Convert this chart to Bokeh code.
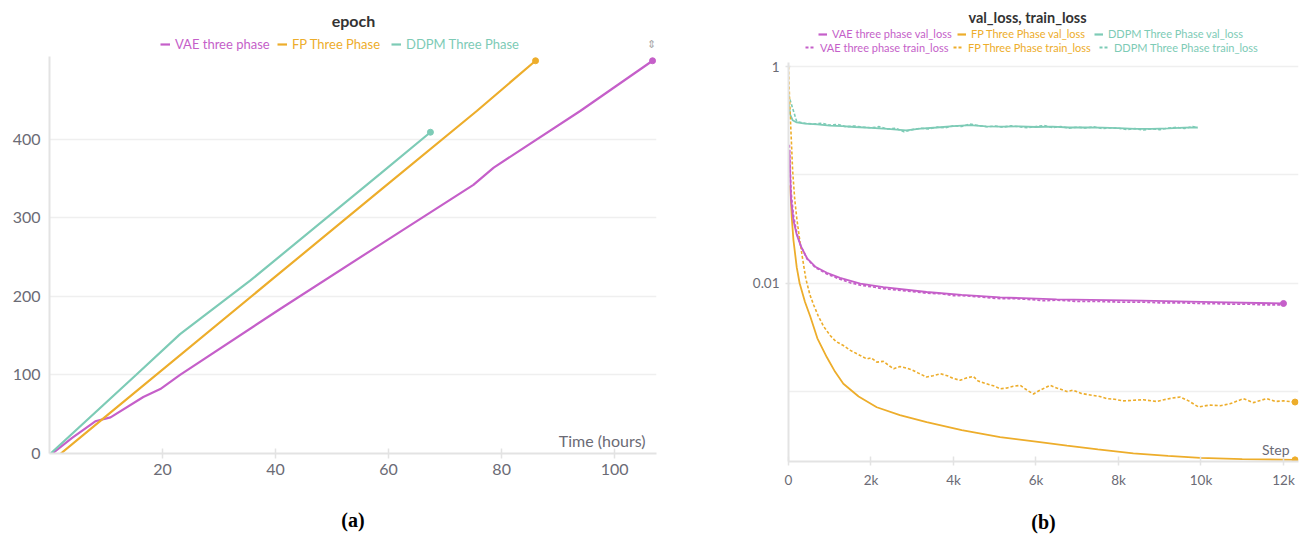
from bokeh.plotting import figure
from bokeh.models import FixedTicker, Legend, LegendItem, Label, Range1d
from bokeh.layouts import row, column
from bokeh.embed import file_html
from bokeh.resources import INLINE

# ---------------- panel (a): epoch vs time ----------------
vae_hours = [0.5, 4.0, 8.1, 10.8, 16.6, 19.6, 23.1, 40.8, 58.5, 75.0, 78.6, 93.9, 106.7]
vae_epoch = [0, 20, 41, 46, 72, 82, 100, 184, 266, 342, 364, 436, 500]
fp_hours = [2.0, 9.0, 39.1, 58.5, 75.6, 86.0]
fp_epoch = [0, 41.5, 220, 335, 436, 500]
ddpm_hours = [0.2, 15.3, 23.1, 35.5, 58.5, 67.4]
ddpm_epoch = [0, 100, 152, 220, 356, 409]
hour_ticks = [20, 40, 60, 80, 100]
epoch_ticks = [0, 100, 200, 300, 400]

# ---------------- panel (b): losses vs step ----------------
vae_val_steps = [20, 60, 120, 200, 300, 450, 650, 930, 1250, 1740, 2300, 3350, 4200, 5130, 6500, 8570, 10300, 12000]
vae_val = [0.17, 0.06, 0.038, 0.028, 0.022, 0.017, 0.0142, 0.0125, 0.0112, 0.0099, 0.0092, 0.0083, 0.0078,
           0.0074, 0.0071, 0.0069, 0.0067, 0.0065]
vae_train_steps = [20, 60, 120, 200, 300, 450, 650, 930, 1250, 1500, 1740, 2000, 2300, 2600, 3000, 3350, 3700,
                   4000, 4200, 4600, 5130, 5500, 5800, 6200, 6500, 7000, 7500, 8000, 8570, 9000, 9500, 10000,
                   10300, 10800, 11200, 11600, 12000]
vae_train = [0.19, 0.07, 0.042, 0.029, 0.022, 0.0168, 0.0140, 0.0122, 0.0109, 0.0101, 0.0096, 0.0093, 0.0089,
             0.0087, 0.0084, 0.0081, 0.0080, 0.0077, 0.0077, 0.0075, 0.0072, 0.0072, 0.0071, 0.0069, 0.0070,
             0.0068, 0.0068, 0.0067, 0.0067, 0.0066, 0.0066, 0.0065, 0.0065, 0.0064, 0.0064, 0.0063, 0.0063]
fp_val_steps = [40, 80, 120, 200, 270, 400, 530, 700, 930, 1130, 1330, 1700, 2140, 2700, 3350, 4200, 5130,
                6000, 6750, 7500, 8360, 9200, 9980, 11000, 12280]
fp_val = [0.08, 0.04, 0.025, 0.014, 0.01, 0.0067, 0.0049, 0.0031, 0.00207, 0.00152, 0.00118, 0.00090, 0.000716,
          0.000605, 0.000521, 0.000440, 0.000379, 0.000345, 0.000317, 0.000292, 0.000269, 0.000255, 0.000244,
          0.000238, 0.000234]
fp_train_steps = [0, 30, 60, 100, 150, 200, 260, 330, 420, 520, 610, 720, 850, 1010, 1150, 1330, 1500, 1740,
                  1900, 2000, 2140, 2300, 2450, 2550, 2700, 2850, 3000, 3150, 3350, 3500, 3680, 3850, 4000, 4160,
                  4300, 4480, 4600, 4800, 5000, 5130, 5300, 5450, 5620, 5800, 5940, 6100, 6340, 6500, 6750, 6900,
                  7100, 7390, 7550, 7720, 7900, 8100, 8360, 8600, 8930, 9100, 9300, 9500, 9700, 9940, 10200,
                  10470, 10700, 11030, 11270, 11450, 11600, 11800, 12000, 12280]
fp_train = [1.0, 0.45, 0.25, 0.11, 0.06, 0.04, 0.027, 0.018, 0.011, 0.0078, 0.0063, 0.0050, 0.0040, 0.00329,
            0.0029, 0.00266, 0.0024, 0.00215, 0.0020, 0.00205, 0.00187, 0.0019, 0.00172, 0.00162, 0.0017,
            0.00165, 0.00158, 0.00148, 0.00136, 0.0014, 0.00146, 0.0014, 0.00132, 0.00127, 0.00133, 0.00138,
            0.00125, 0.00118, 0.00112, 0.00106, 0.00108, 0.00112, 0.00114, 0.00102, 0.00095, 0.00103, 0.00114,
            0.00108, 0.00100, 0.00103, 0.00096, 0.00092, 0.00090, 0.00086, 0.00085, 0.00082, 0.00083, 0.00084,
            0.00081, 0.00084, 0.00087, 0.00089, 0.00082, 0.00072, 0.00075, 0.00074, 0.00077, 0.00086, 0.00079,
            0.00083, 0.00086, 0.00081, 0.00082, 0.00080]
ddpm_val_steps = [0, 40, 100, 200, 400, 700, 1000, 1300, 1600, 2000, 2400, 2850, 3200, 3600, 4000, 4400, 4800,
                  5200, 5600, 6000, 6400, 6800, 7200, 7600, 8000, 8400, 8800, 9200, 9600, 9920]
ddpm_val = [0.48, 0.36, 0.32, 0.305, 0.298, 0.293, 0.285, 0.282, 0.277, 0.272, 0.266, 0.258, 0.268, 0.274,
            0.282, 0.288, 0.281, 0.279, 0.281, 0.277, 0.279, 0.274, 0.275, 0.273, 0.27, 0.266, 0.266, 0.269,
            0.273, 0.274]
ddpm_train_steps = [0, 200, 400, 600, 800, 1000, 1200, 1400, 1600, 1800, 2000, 2200, 2400, 2600, 2800, 3000,
                    3200, 3400, 3600, 3800, 4000, 4200, 4400, 4600, 4800, 5000, 5200, 5400, 5600, 5800, 6000,
                    6200, 6400, 6600, 6800, 7000, 7200, 7400, 7600, 7800, 8000, 8200, 8400, 8600, 8800, 9000,
                    9200, 9400, 9600, 9800, 9920]
ddpm_train = [0.55, 0.31, 0.30, 0.295, 0.30, 0.288, 0.292, 0.278, 0.283, 0.276, 0.272, 0.279, 0.265, 0.27,
              0.25, 0.262, 0.27, 0.266, 0.276, 0.272, 0.285, 0.28, 0.295, 0.285, 0.278, 0.283, 0.276, 0.284,
              0.278, 0.272, 0.28, 0.285, 0.274, 0.279, 0.27, 0.276, 0.271, 0.278, 0.268, 0.272, 0.27, 0.262,
              0.268, 0.26, 0.266, 0.262, 0.27, 0.275, 0.268, 0.28, 0.272]
step_ticks = [0, 2000, 4000, 6000, 8000, 10000, 12000]
step_tick_labels = ["0", "2k", "4k", "6k", "8k", "10k", "12k"]
loss_ticks = [0.01, 1]
loss_tick_labels = ["0.01", "1"]
loss_grid = [0.001, 0.01, 0.1, 1]

# ---------------- styling ----------------
PURPLE = "#c55fc9"
ORANGE = "#edad2b"
TEAL = "#7dcbb6"
FONT = "Lato"
TICK_COL = "#6b6b75"
AXIS_COL = "#e3e3e3"
GRID_COL = "#efefef"
TITLE_COL = "#333333"
NAN = float("nan")


def style_axes(p, size):
    for ax in (p.xaxis[0], p.yaxis[0]):
        ax.axis_line_color = AXIS_COL
        ax.axis_line_width = 2
        ax.major_tick_line_color = AXIS_COL
        ax.major_tick_line_width = 1.5
        ax.minor_tick_line_color = None
        ax.major_label_text_color = TICK_COL
        ax.major_label_text_font = FONT
        ax.major_label_text_font_size = size


def make_header(width, height, bl, br):
    # frame spans canvas x in [bl, width - br]; data x == canvas x, data y == height - canvas y
    h = figure(width=width, height=height, output_backend="svg", toolbar_location=None,
               x_range=Range1d(bl, width - br), y_range=Range1d(0, height),
               min_border_left=bl, min_border_right=br, min_border_top=0, min_border_bottom=0,
               x_axis_location=None, y_axis_location=None)
    h.outline_line_color = None
    h.xgrid.visible = False
    h.ygrid.visible = False
    return h


def head_label(h, cx, cy, text, size, color, align="center", style="normal", font=FONT):
    h.add_layout(Label(x=cx, y=h.height - cy, text=text, text_align=align, text_baseline="middle",
                       text_font=font, text_font_size=size, text_color=color, text_font_style=style))


def head_legend(h, text, color, dash, cx, cy, size, gw, fl, lh=14):
    r = h.line(x=[NAN], y=[NAN], line_color=color, line_width=2.2, line_dash=dash)
    lg = Legend(items=[LegendItem(label=text, renderers=[r])],
                location=(cx - fl, h.height - cy - lh / 2), orientation="horizontal",
                padding=0, margin=0, spacing=0, glyph_width=gw, glyph_height=lh, label_height=lh,
                label_standoff=5, label_text_font=FONT, label_text_font_size=size,
                label_text_color=color, border_line_color=None, background_fill_alpha=0,
                label_text_baseline="middle")
    h.add_layout(lg)


def frame_label(p, fl, fb, cx, cy, text, size, color, align="right"):
    p.add_layout(Label(x=cx - fl, y=fb - cy, x_units="screen", y_units="screen", text=text,
                       text_align=align, text_baseline="middle", text_font=FONT,
                       text_font_size=size, text_color=color))


# ---------------- figure (a) ----------------
HA = 56
FLa, FRa = 49, 64
FBa = 453 - HA
ha = make_header(720, HA, FLa, FRa)
head_label(ha, 353, 20, "epoch", "16px", TITLE_COL, style="bold")
head_legend(ha, "VAE three phase", PURPLE, "solid", 160, 45, "13px", 10, FLa)
head_legend(ha, "FP Three Phase", ORANGE, "solid", 277, 45, "13px", 10, FLa)
head_legend(ha, "DDPM Three Phase", TEAL, "solid", 391, 45, "13px", 10, FLa)
head_label(ha, 651, 44, "\u21d5", "11px", "#a8a8a8", font="DejaVu Sans")

pa = figure(width=720, height=537 - HA, output_backend="svg", toolbar_location=None,
            x_range=Range1d(0, 107.4), y_range=Range1d(0, 505.4),
            min_border_left=FLa, min_border_right=FRa, min_border_top=0, min_border_bottom=84)
pa.outline_line_color = None
pa.xgrid.visible = False
pa.ygrid.ticker = FixedTicker(ticks=epoch_ticks)
pa.ygrid.grid_line_color = GRID_COL
pa.ygrid.grid_line_width = 1.5
pa.xaxis.ticker = FixedTicker(ticks=hour_ticks)
pa.yaxis.ticker = FixedTicker(ticks=epoch_ticks)
style_axes(pa, "16px")
pa.xaxis.major_tick_in = 5
pa.xaxis.major_tick_out = 5
pa.xaxis.major_label_standoff = 5
pa.yaxis.major_tick_in = 0
pa.yaxis.major_tick_out = 0
pa.yaxis.major_label_standoff = 9
pa.xaxis.axis_label = "(a)"
pa.xaxis.axis_label_text_font = "Liberation Serif"
pa.xaxis.axis_label_text_font_style = "bold"
pa.xaxis.axis_label_text_font_size = "20px"
pa.xaxis.axis_label_text_color = "black"
pa.xaxis.axis_label_standoff = 31

pa.line(vae_hours, vae_epoch, line_color=PURPLE, line_width=2.2)
pa.line(fp_hours, fp_epoch, line_color=ORANGE, line_width=2.2)
pa.line(ddpm_hours, ddpm_epoch, line_color=TEAL, line_width=2.2)
for hrs, ep, c in ((vae_hours, vae_epoch, PURPLE), (fp_hours, fp_epoch, ORANGE), (ddpm_hours, ddpm_epoch, TEAL)):
    pa.scatter([hrs[-1]], [ep[-1]], size=6, color=c)
frame_label(pa, FLa, FBa, 645, 440 - HA, "Time (hours)", "16px", TICK_COL)

# ---------------- figure (b) ----------------
HB = 56
FLb, FRb = 68, 6
FBb = 461 - HB
X0 = 720
hb = make_header(584, HB, FLb, FRb)
head_label(hb, 1027 - X0, 17, "val_loss, train_loss", "14.5px", TITLE_COL, style="bold")
LS = "11px"
head_legend(hb, "VAE three phase val_loss", PURPLE, "solid", 818 - X0, 34, LS, 9, FLb, 12)
head_legend(hb, "FP Three Phase val_loss", ORANGE, "solid", 957 - X0, 34, LS, 9, FLb, 12)
head_legend(hb, "DDPM Three Phase val_loss", TEAL, "solid", 1094 - X0, 34, LS, 9, FLb, 12)
head_legend(hb, "VAE three phase train_loss", PURPLE, "3 2", 805 - X0, 47.5, LS, 10, FLb, 12)
head_legend(hb, "FP Three Phase train_loss", ORANGE, "3 2", 953 - X0, 47.5, LS, 10, FLb, 12)
head_legend(hb, "DDPM Three Phase train_loss", TEAL, "3 2", 1099 - X0, 47.5, LS, 10, FLb, 12)

pb = figure(width=584, height=537 - HB, output_backend="svg", toolbar_location=None, y_axis_type="log",
            x_range=Range1d(0, 12364), y_range=Range1d(2.26e-4, 1.091),
            min_border_left=FLb, min_border_right=FRb, min_border_top=62 - HB, min_border_bottom=76)
pb.outline_line_color = None
pb.xgrid.visible = False
pb.ygrid.ticker = FixedTicker(ticks=loss_grid)
pb.ygrid.grid_line_color = GRID_COL
pb.ygrid.grid_line_width = 1.5
pb.xaxis.ticker = FixedTicker(ticks=step_ticks)
pb.xaxis.major_label_overrides = {t: s for t, s in zip(step_ticks, step_tick_labels)}
pb.yaxis.ticker = FixedTicker(ticks=loss_ticks)
pb.yaxis.major_label_overrides = {t: s for t, s in zip(loss_ticks, loss_tick_labels)}
style_axes(pb, "13.5px")
pb.xaxis.major_tick_in = 5
pb.xaxis.major_tick_out = 4
pb.xaxis.major_label_standoff = 6
pb.yaxis.major_tick_in = 2
pb.yaxis.major_tick_out = 3
pb.yaxis.major_label_standoff = 6
pb.xaxis.axis_label = "(b)"
pb.xaxis.axis_label_text_font = "Liberation Serif"
pb.xaxis.axis_label_text_font_style = "bold"
pb.xaxis.axis_label_text_font_size = "20px"
pb.xaxis.axis_label_text_color = "black"
pb.xaxis.axis_label_standoff = 20

pb.line(ddpm_train_steps, ddpm_train, line_color=TEAL, line_width=1.6, line_dash="3 2")
pb.line(ddpm_val_steps, ddpm_val, line_color=TEAL, line_width=1.8)
pb.line(fp_train_steps, fp_train, line_color=ORANGE, line_width=1.6, line_dash="3 2")
pb.line(fp_val_steps, fp_val, line_color=ORANGE, line_width=1.8)
pb.line(vae_train_steps, vae_train, line_color=PURPLE, line_width=1.8, line_dash="3 2")
pb.line(vae_val_steps, vae_val, line_color=PURPLE, line_width=1.8)
for st, vals, c in ((vae_val_steps, vae_val, PURPLE), (fp_val_steps, fp_val, ORANGE),
                    (fp_train_steps, fp_train, ORANGE)):
    pb.scatter([st[-1]], [vals[-1]], size=6, color=c)
frame_label(pb, FLb, FBb, 1289 - X0, 449 - HB, "Step", "14px", TICK_COL)

layout = row(column(ha, pa), column(hb, pb))
open("out.html", "w").write(file_html(layout, INLINE))
